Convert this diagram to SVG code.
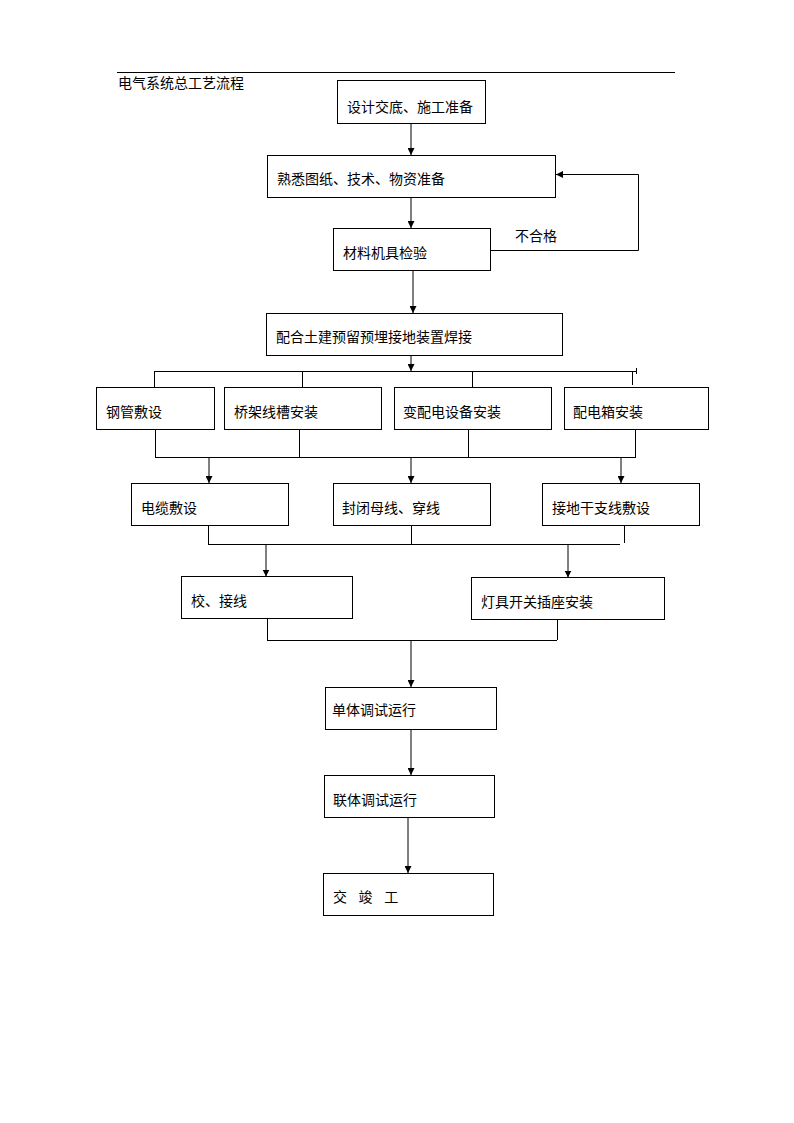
<svg xmlns="http://www.w3.org/2000/svg" width="794" height="1123" viewBox="0 0 794 1123">
<style>
rect.box{fill:#fff;stroke:#000;stroke-width:1}
text{font-family:"Liberation Sans","Noto Sans CJK SC",sans-serif;font-size:14px;fill:#000}
.c line,.c polyline{stroke:#000;stroke-width:1;fill:none}
</style>
<defs>
<marker id="ah" viewBox="0 0 8 8" refX="8" refY="4" markerWidth="7" markerHeight="7" markerUnits="userSpaceOnUse" orient="auto">
<path d="M0,0 L8,4 L0,8 z" fill="#000"/>
</marker>
</defs>
<rect width="794" height="1123" fill="#fff"/>
<line x1="117" y1="72.5" x2="675" y2="72.5" stroke="#000" stroke-width="1"/>
<text x="118" y="88">电气系统总工艺流程</text>

<g class="c" id="connectors">
<line x1="411" y1="123" x2="411" y2="155" marker-end="url(#ah)"/>
<line x1="411" y1="197" x2="411" y2="228" marker-end="url(#ah)"/>
<polyline points="490,250.5 638.5,250.5 638.5,174.5 556,174.5" marker-end="url(#ah)"/>
<line x1="413" y1="270" x2="413" y2="313" marker-end="url(#ah)"/>
<line x1="411" y1="355" x2="411" y2="371" marker-end="url(#ah)"/>
<line x1="154" y1="371.5" x2="636" y2="371.5"/>
<line x1="154.5" y1="371" x2="154.5" y2="387.5"/>
<line x1="302.5" y1="371" x2="302.5" y2="387.5"/>
<line x1="472.5" y1="371" x2="472.5" y2="387.5"/>
<line x1="632.5" y1="371" x2="632.5" y2="385"/>
<line x1="636.5" y1="368" x2="636.5" y2="374"/>
<line x1="155" y1="457.5" x2="636" y2="457.5"/>
<line x1="155.5" y1="429" x2="155.5" y2="457"/>
<line x1="299.5" y1="429" x2="299.5" y2="457"/>
<line x1="468.5" y1="429" x2="468.5" y2="457"/>
<line x1="635.5" y1="429" x2="635.5" y2="457"/>
<line x1="209" y1="457" x2="209" y2="483" marker-end="url(#ah)"/>
<line x1="411" y1="457" x2="411" y2="483" marker-end="url(#ah)"/>
<line x1="621" y1="457" x2="621" y2="483" marker-end="url(#ah)"/>
<line x1="208" y1="544.5" x2="620" y2="544.5"/>
<line x1="208.5" y1="525" x2="208.5" y2="544"/>
<line x1="411.5" y1="525" x2="411.5" y2="544"/>
<line x1="624.5" y1="525" x2="624.5" y2="543"/>
<line x1="266" y1="544" x2="266" y2="576.5" marker-end="url(#ah)"/>
<line x1="568" y1="544" x2="568" y2="577.5" marker-end="url(#ah)"/>
<line x1="267" y1="640.5" x2="557" y2="640.5"/>
<line x1="267.5" y1="618" x2="267.5" y2="640"/>
<line x1="557.5" y1="619" x2="557.5" y2="640"/>
<line x1="411" y1="640" x2="411" y2="687" marker-end="url(#ah)"/>
<line x1="411" y1="729" x2="411" y2="775" marker-end="url(#ah)"/>
<line x1="408" y1="817" x2="408" y2="873" marker-end="url(#ah)"/>
</g>

<g id="n1"><rect class="box" x="337.5" y="80.5" width="148" height="43"/><text x="347" y="112">设计交底、施工准备</text></g>
<g id="n2"><rect class="box" x="267.5" y="155.5" width="288" height="42"/><text x="277" y="184">熟悉图纸、技术、物资准备</text></g>
<g id="n3"><rect class="box" x="333.5" y="228.5" width="157" height="42"/><text x="343" y="258">材料机具检验</text></g>
<text x="515" y="241">不合格</text>
<g id="n4"><rect class="box" x="266.5" y="313.5" width="296" height="42"/><text x="276" y="342">配合土建预留预埋接地装置焊接</text></g>
<g id="n5"><rect class="box" x="96.5" y="387.5" width="118" height="42"/><text x="106" y="417">钢管敷设</text></g>
<g id="n6"><rect class="box" x="224.5" y="387.5" width="157" height="42"/><text x="234" y="417">桥架线槽安装</text></g>
<g id="n7"><rect class="box" x="394.5" y="387.5" width="157" height="42"/><text x="403" y="417">变配电设备安装</text></g>
<g id="n8"><rect class="box" x="564.5" y="387.5" width="144" height="42"/><text x="573" y="417">配电箱安装</text></g>
<g id="n9"><rect class="box" x="131.5" y="483.5" width="157" height="42"/><text x="141" y="513">电缆敷设</text></g>
<g id="n10"><rect class="box" x="333.5" y="483.5" width="157" height="42"/><text x="342" y="513">封闭母线、穿线</text></g>
<g id="n11"><rect class="box" x="542.5" y="483.5" width="157" height="42"/><text x="552" y="513">接地干支线敷设</text></g>
<g id="n12"><rect class="box" x="181.5" y="576.5" width="171" height="42"/><text x="191" y="606">校、接线</text></g>
<g id="n13"><rect class="box" x="471.5" y="577.5" width="193" height="42"/><text x="481" y="607">灯具开关插座安装</text></g>
<g id="n14"><rect class="box" x="325.5" y="687.5" width="171" height="42"/><text x="332" y="715">单体调试运行</text></g>
<g id="n15"><rect class="box" x="324.5" y="775.5" width="170" height="42"/><text x="333" y="805">联体调试运行</text></g>
<g id="n16"><rect class="box" x="323.5" y="873.5" width="170" height="42"/><text x="333" y="902" style="letter-spacing:3.85px">交 竣 工</text></g>
</svg>
